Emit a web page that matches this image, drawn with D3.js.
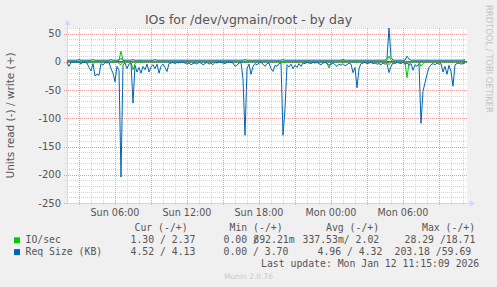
<!DOCTYPE html>
<html>
<head>
<meta charset="utf-8">
<script src="https://cdn.jsdelivr.net/npm/d3@7"></script>
<style>
    body { margin: 0; background: #f0f0f0; }
    svg { display: block; font-family: "DejaVu Sans", sans-serif; }
    .mono { font-family: "DejaVu Sans Mono", monospace; }
</style>
</head>
<body>
<div id="chart"></div>
<script>
"use strict";

// samples every 10 minutes, Sun 02:00 -> Mon 11:20
var startTime = new Date(2026, 0, 11, 2, 0);
var endTime = new Date(2026, 0, 12, 11, 20);
var stepMinutes = 10;

var yTicks = [50, 0, -50, -100, -150, -200, -250];

// IO/sec, read drawn negative, write positive
var ioRead = [
    0, 0, 0, 0, 0, 0, 0, -1, 0, 0, 0, -1, 0, 0, -1, 0, -1, 0, 0, 0,
    0, 0, 0, -1, 0, 0, -3, -5, 0, 0, 0, 0, -1, -14, -3, 0, 0, -1, 0, 0,
    0, 0, 0, 0, 0, 0, 0, 0, 0, 0, 0, 0, 0, 0, 0, 0, 0, 0, 0, 0,
    0, 0, 0, 0, 0, 0, 0, 0, 0, 0, 0, 0, 0, 0, 0, 0, 0, 0, 0, 0,
    0, 0, 0, 0, 0, 0, 0, 0, 0, -1, 0, 0, 0, 0, 0, 0, 0, 0, 0, 0,
    0, 0, 0, 0, 0, 0, 0, 0, -1, -1, 0, 0, 0, 0, 0, 0, 0, 0, 0, 0,
    0, 0, 0, 0, 0, 0, 0, 0, 0, 0, -2, -11, -1, 0, 0, 0, 0, 0, 0, 0,
    0, 0, 0, 0, 0, -1, 0, 0, 0, 0, 0, 0, 0, 0, 0, 0, 0, 0, 0, 0,
    0, -5, -1, 0, 0, 0, 0, 0, 0, 0, -28, -2, 0, 0, 0, 0, 0, -8, -3, 0,
    0, 0, 0, 0, 0, 0, 0, 0, 0, 0, 0, 0, 0, 0, 0, 0, 0, 0, 0, -1
];
var ioWrite = [
    1, 1, 1, 1, 1, 1, 1, 1, 1, 1, 1, 2, 1, 1, 1, 1, 1, 1, 1, 1,
    1, 1, 1, 1, 1, 1, 3, 19, 3, 1, 1, 1, 1, 1, 1, 1, 1, 1, 1, 1,
    1, 1, 1, 1, 1, 1, 1, 1, 1, 1, 1, 1, 1, 1, 1, 1, 1, 1, 1, 1,
    1, 1, 1, 1, 1, 1, 1, 1, 1, 1, 1, 1, 1, 1, 1, 1, 1, 1, 1, 1,
    1, 1, 1, 1, 1, 1, 1, 1, 1, 1, 1, 1, 1, 1, 1, 1, 1, 1, 1, 1,
    1, 1, 1, 1, 1, 1, 1, 1, 1, 1, 1, 1, 1, 1, 1, 1, 1, 1, 1, 1,
    1, 1, 1, 1, 1, 1, 1, 1, 1, 1, 1, 1, 1, 1, 1, 1, 1, 1, 4, 1,
    1, 1, 1, 1, 1, 1, 1, 1, 1, 1, 1, 1, 1, 1, 1, 1, 1, 1, 1, 1,
    3, 10, 3, 1, 1, 1, 1, 1, 1, 1, 1, 1, 1, 1, 1, 1, 1, 1, 1, 1,
    1, 1, 1, 1, 1, 1, 1, 1, 1, 1, 1, 1, 1, 1, 1, 1, 1, 1, 1, 2
];

// request size in KB, read drawn negative, write positive
var sizeRead = [
    -2, -8, -1, 0, -1, 0, -1, -4, 0, -1, -2, -10, -16, -3, -25, -22, -24, -3, -6, -1,
    -2, -1, -12, -20, -35, -8, -15, -204, -5, -2, -12, -4, -2, -73, -6, -18, -10, -20, -8, -14,
    -4, -18, -9, -5, -12, -4, -20, -8, -4, -10, -17, -3, -2, -1, -3, -1, -2, 0, -1, -2,
    -4, -2, -5, -3, -2, -4, -1, -2, -5, -3, -1, -4, -2, -5, -1, -2, 0, -1, -2, -3,
    -1, 0, -1, -2, -8, -6, -2, -1, -30, -130, -12, -4, -22, -8, -3, -5, -2, -1, -4, -8,
    -3, -2, -12, -17, -6, -8, -3, -2, -130, -83, -5, -9, -4, -12, -6, -10, -3, -8, -2, -3,
    -1, -2, -3, -1, -2, -1, -3, -5, -2, -1, -3, -6, -4, -2, -5, -8, -4, -6, -3, -7,
    -5, -2, -4, -19, -10, -46, -12, -3, -2, -1, -3, -2, -1, -3, -2, -4, -3, -5, -2, -4,
    -3, -19, -8, -2, -3, -1, -2, -3, -1, -4, -2, -6, -3, -15, -5, -8, -3, -109, -52, -37,
    -22, -10, -5, -3, -5, -2, -4, -3, -18, -8, -22, -6, -17, -43, -5, -3, -2, -4, -3, -2
];
var sizeWrite = [
    3, 3, 3, 3, 3, 3, 4, 3, 3, 3, 3, 3, 3, 4, 3, 3, 3, 3, 3, 3,
    3, 3, 4, 3, 3, 3, 3, 6, 3, 3, 3, 3, 3, 4, 3, 3, 3, 3, 3, 3,
    3, 3, 3, 3, 4, 3, 3, 3, 3, 3, 3, 3, 3, 3, 3, 3, 3, 3, 3, 3,
    3, 3, 3, 3, 3, 3, 3, 3, 3, 3, 3, 3, 3, 3, 3, 3, 3, 3, 3, 3,
    3, 3, 3, 3, 3, 3, 3, 3, 3, 4, 3, 3, 3, 3, 3, 3, 3, 3, 3, 3,
    3, 3, 3, 3, 3, 3, 3, 3, 4, 3, 3, 3, 3, 3, 3, 3, 3, 3, 3, 3,
    3, 3, 3, 3, 3, 3, 3, 3, 3, 3, 3, 3, 3, 3, 3, 3, 3, 3, 4, 3,
    3, 3, 3, 3, 3, 3, 3, 3, 3, 3, 3, 3, 3, 3, 3, 3, 3, 3, 3, 3,
    6, 60, 8, 3, 3, 3, 3, 3, 3, 3, 10, 5, 3, 3, 3, 3, 3, 3, 3, 3,
    3, 3, 3, 3, 3, 3, 3, 3, 3, 3, 3, 3, 3, 3, 3, 3, 3, 3, 3, 4
];

var legendRows = [
    { name: "IO/sec", color: "#00cc00", cur: "1.30 / 2.37", min: "0.00 /", minW: "892.21m", avg: "337.53m/ 2.02", max: "28.29 /18.71" },
    { name: "Req Size (KB)", color: "#0066b3", cur: "4.52 / 4.13", min: "0.00 / 3.70", minW: "", avg: "4.96 / 4.32", max: "203.18 /59.69" }
];

var width = 497, height = 287;
var plotLeft = 67, plotRight = 467, plotTop = 28, plotBottom = 203;

var svg = d3.select("#chart")
    .append("svg")
    .attr("width", width)
    .attr("height", height);

svg.append("rect")
    .attr("width", width)
    .attr("height", height)
    .attr("fill", "#f0f0f0");

svg.append("rect")
    .attr("x", plotLeft)
    .attr("y", plotTop)
    .attr("width", plotRight - plotLeft)
    .attr("height", plotBottom - plotTop)
    .attr("fill", "#ffffff");

var x = d3.scaleTime()
    .domain([startTime, endTime])
    .range([plotLeft, plotRight]);

var y = d3.scaleLinear()
    .domain([-250, 60])
    .range([plotBottom, plotTop]);

// grid
var hours = d3.timeHour.range(d3.timeHour.offset(startTime, 1), endTime);
var minorY = d3.range(-240, 61, 10).filter(function (v) { return v % 50 !== 0; });

svg.selectAll("line.vminor")
    .data(hours.filter(function (d) { return d.getHours() % 3 !== 0; }))
    .enter()
    .append("line")
    .attr("x1", function (d) { return Math.round(x(d)) + 0.5; })
    .attr("x2", function (d) { return Math.round(x(d)) + 0.5; })
    .attr("y1", plotTop)
    .attr("y2", plotBottom + 2)
    .attr("stroke", "#d4d4d4")
    .attr("stroke-dasharray", "1,1");

svg.selectAll("line.hminor")
    .data(minorY)
    .enter()
    .append("line")
    .attr("x1", plotLeft - 2)
    .attr("x2", plotRight)
    .attr("y1", function (d) { return Math.round(y(d)) + 0.5; })
    .attr("y2", function (d) { return Math.round(y(d)) + 0.5; })
    .attr("stroke", "#d4d4d4")
    .attr("stroke-dasharray", "1,1");

svg.selectAll("line.vmajor")
    .data(hours.filter(function (d) { return d.getHours() % 3 === 0; }))
    .enter()
    .append("line")
    .attr("x1", function (d) { return Math.round(x(d)) + 0.5; })
    .attr("x2", function (d) { return Math.round(x(d)) + 0.5; })
    .attr("y1", plotTop)
    .attr("y2", plotBottom + 3)
    .attr("stroke", "#ef9a9a")
    .attr("stroke-dasharray", "1,1");

svg.selectAll("line.hmajor")
    .data(yTicks)
    .enter()
    .append("line")
    .attr("x1", plotLeft - 3)
    .attr("x2", plotRight)
    .attr("y1", function (d) { return Math.round(y(d)) + 0.5; })
    .attr("y2", function (d) { return Math.round(y(d)) + 0.5; })
    .attr("stroke", "#ef9a9a")
    .attr("stroke-dasharray", "1,1");

// axes
svg.append("line")
    .attr("x1", plotLeft + 0.5).attr("x2", plotLeft + 0.5)
    .attr("y1", plotBottom).attr("y2", plotTop - 4)
    .attr("stroke", "#cfd6f8");
svg.append("path")
    .attr("d", "M" + (plotLeft - 2.5) + "," + (plotTop - 3) + "L" + (plotLeft + 0.5) + "," + (plotTop - 8) + "L" + (plotLeft + 3.5) + "," + (plotTop - 3) + "Z")
    .attr("fill", "#cfd6f8");
svg.append("line")
    .attr("x1", plotLeft).attr("x2", plotRight + 4)
    .attr("y1", plotBottom + 0.5).attr("y2", plotBottom + 0.5)
    .attr("stroke", "#cfd6f8");
svg.append("path")
    .attr("d", "M" + (plotRight + 3) + "," + (plotBottom - 2.5) + "L" + (plotRight + 8) + "," + (plotBottom + 0.5) + "L" + (plotRight + 3) + "," + (plotBottom + 3.5) + "Z")
    .attr("fill", "#cfd6f8");

// tick labels
svg.selectAll("text.ylab")
    .data(yTicks)
    .enter()
    .append("text")
    .text(function (d) { return d; })
    .attr("x", 61)
    .attr("y", function (d) { return y(d) + 3.5; })
    .attr("text-anchor", "end")
    .attr("font-size", "10px")
    .attr("fill", "#555");

svg.selectAll("text.xlab")
    .data(hours.filter(function (d) { return d.getHours() % 6 === 0; }))
    .enter()
    .append("text")
    .text(d3.timeFormat("%a %H:%M"))
    .attr("x", function (d) { return x(d); })
    .attr("y", 216)
    .attr("text-anchor", "middle")
    .attr("font-size", "9.6px")
    .attr("fill", "#555");

// zero line
svg.append("line")
    .attr("x1", plotLeft).attr("x2", plotRight)
    .attr("y1", y(0)).attr("y2", y(0))
    .attr("stroke", "#000");

// series
var times = d3.range(sizeRead.length).map(function (i) {
    return d3.timeMinute.offset(startTime, i * stepMinutes);
});

var line = d3.line()
    .x(function (d, i) { return x(times[i]); })
    .y(function (d) { return y(d); });

[[ioRead, "#00cc00"], [ioWrite, "#00cc00"], [sizeRead, "#0066b3"], [sizeWrite, "#0066b3"]]
    .forEach(function (s) {
        svg.append("path")
            .datum(s[0])
            .attr("d", line)
            .attr("fill", "none")
            .attr("stroke", s[1])
            .attr("stroke-width", 1);
    });

// titles
svg.append("text")
    .text("IOs for /dev/vgmain/root - by day")
    .attr("x", 248.5)
    .attr("y", 24)
    .attr("text-anchor", "middle")
    .attr("font-size", "12.5px")
    .attr("fill", "#555");

svg.append("text")
    .text("Units read (-) / write (+)")
    .attr("transform", "translate(14," + ((plotTop + plotBottom) / 2) + ") rotate(-90)")
    .attr("text-anchor", "middle")
    .attr("font-size", "10.5px")
    .attr("fill", "#555");

svg.append("text")
    .text("RRDTOOL / TOBI OETIKER")
    .attr("transform", "translate(485.5,5) rotate(90)")
    .attr("font-size", "8.4px")
    .attr("fill", "#c4c4c4");

// legend
var legend = svg.append("g")
    .attr("class", "mono")
    .attr("font-size", "9.8px")
    .attr("fill", "#555")
    .attr("xml:space", "preserve");

[["Cur (-/+)", 134.5], ["Min (-/+)", 229.5], ["Avg (-/+)", 326], ["Max (-/+)", 422]]
    .forEach(function (h) {
        legend.append("text").text(h[0]).attr("x", h[1]).attr("y", 231);
    });

legendRows.forEach(function (r, i) {
    var by = 243.3 + i * 11.8;
    legend.append("rect")
        .attr("x", 14).attr("y", by - 6)
        .attr("width", 6).attr("height", 6)
        .attr("fill", r.color);
    legend.append("text").text(r.name).attr("x", 25.5).attr("y", by);
    legend.append("text").text(r.cur).attr("x", 130.5).attr("y", by);
    legend.append("text").text(r.min).attr("x", 223.5).attr("y", by);
    legend.append("text").text(r.minW).attr("x", 253.3).attr("y", by);
    legend.append("text").text(r.avg).attr("x", i === 0 ? 302.5 : 317.5).attr("y", by);
    legend.append("text").text(r.max).attr("x", i === 0 ? 404.5 : 394.5).attr("y", by);
});

legend.append("text")
    .text("Last update: Mon Jan 12 11:15:09 2026")
    .attr("x", 261)
    .attr("y", 266.7);

svg.append("text")
    .text("Munin 2.0.76")
    .attr("x", 248.5)
    .attr("y", 279)
    .attr("text-anchor", "middle")
    .attr("font-size", "7.5px")
    .attr("fill", "#c8c8c8");
</script>
</body>
</html>
